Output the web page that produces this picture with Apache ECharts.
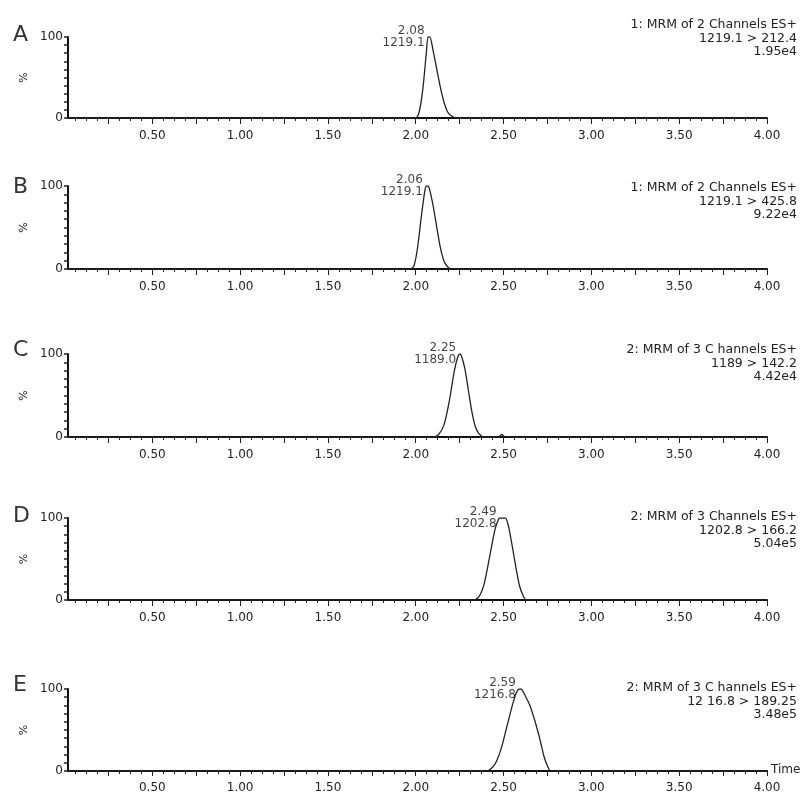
<!DOCTYPE html>
<html><head><meta charset="utf-8">
<script src="https://cdn.jsdelivr.net/npm/echarts@6/dist/echarts.min.js"></script>
<style>html,body{margin:0;padding:0;background:#fff}#c{width:807px;height:794px}</style>
</head><body><div id="c"></div><script>
// ---- data ----
const panelLetters = ['A', 'B', 'C', 'D', 'E'];
const channelLine1 = ['1: MRM of 2 Channels ES+', '1: MRM of 2 Channels ES+', '2: MRM of 3 C hannels ES+', '2: MRM of 3 Channels ES+', '2: MRM of 3 C hannels ES+'];
const channelLine2 = ['1219.1 > 212.4', '1219.1 > 425.8', '1189 > 142.2', '1202.8 > 166.2', '12 16.8 > 189.25'];
const channelLine3 = ['1.95e4', '9.22e4', '4.42e4', '5.04e5', '3.48e5'];
const peakRT = ['2.08', '2.06', '2.25', '2.49', '2.59'];
const peakMass = ['1219.1', '1219.1', '1189.0', '1202.8', '1216.8'];
const xTickLabels = ['0.50', '1.00', '1.50', '2.00', '2.50', '3.00', '3.50', '4.00'];
const yTickLabels = ['0', '100'];

const timesA  = [0.02, 2.00, 2.02, 2.04, 2.06, 2.07, 2.08, 2.10, 2.12, 2.14, 2.16, 2.18, 2.20, 2.23, 4.00];
const valuesA = [0,    0,    8,    35,   80,   100,  100,  82,   60,   38,   20,   8,    3,    0,    0];
const timesB  = [0.02, 1.97, 1.99, 2.01, 2.03, 2.05, 2.06, 2.07, 2.08, 2.10, 2.12, 2.14, 2.16, 2.18, 2.20, 4.00];
const valuesB = [0,    0,    4,    25,   60,   92,   100,  100,  95,   75,   50,   26,   10,   3,    0,    0];
const timesC  = [0.02, 2.10, 2.13, 2.16, 2.19, 2.22, 2.24, 2.25, 2.26, 2.28, 2.30, 2.32, 2.34, 2.36, 2.39, 2.47, 2.49, 2.51, 4.00];
const valuesC = [0,    0,    3,    14,   42,   80,   97,   100,  98,   82,   56,   30,   12,   4,    0,    0,    3,    0,    0];
const timesD  = [0.02, 2.33, 2.36, 2.39, 2.42, 2.45, 2.47, 2.48, 2.51, 2.53, 2.55, 2.57, 2.59, 2.61, 2.63, 4.00];
const valuesD = [0,    0,    4,    20,   52,   85,   98,   100,  100,  88,   65,   40,   18,   6,    0,    0];
const timesE  = [0.02, 2.40, 2.43, 2.46, 2.49, 2.52, 2.55, 2.57, 2.59, 2.60, 2.62, 2.65, 2.68, 2.71, 2.73, 2.75, 2.77, 4.00];
const valuesE = [0,    0,    3,    12,   30,   55,   80,   94,   100,  100,  93,   80,   60,   36,   18,   6,    0,    0];

const allTimes = [timesA, timesB, timesC, timesD, timesE];
const allValues = [valuesA, valuesB, valuesC, valuesD, valuesE];

// ---- layout / style ----
const FONT = 'DejaVu Sans';
const tops = [37, 186, 354, 518, 689];
const heights = [81, 83, 83, 82, 82];
const rtTops = [13, 176, 338, 505, 676];
const letterTops = [19, 171, 334, 500, 669];
const X_MIN = 0.02, X_MAX = 4.0, PX_L = 68, PX_R = 767, W = 807;
const ppu = (PX_R - PX_L) / (X_MAX - X_MIN);
const leftFor = m => PX_L + (m - X_MIN) * ppu;

const grid = [], xAxis = [], yAxis = [], series = [], title = [];
for (let p = 0; p < 5; p++) {
  const g0 = grid.length;
  grid.push({left: PX_L, right: W - PX_R, top: tops[p], height: heights[p]});
  grid.push({left: leftFor(0.0625), right: W - PX_R, top: tops[p], height: heights[p]});
  grid.push({left: leftFor(0.25), right: W - PX_R, top: tops[p], height: heights[p]});

  xAxis.push({type: 'value', gridIndex: g0, min: X_MIN, max: X_MAX,
    axisLine: {show: true, onZero: false, lineStyle: {color: '#111', width: 2}},
    axisTick: {show: false}, axisLabel: {show: false}, splitLine: {show: false}});
  xAxis.push({type: 'value', gridIndex: g0 + 1, min: 0.0625, max: X_MAX, interval: 0.0625,
    axisLine: {show: false}, axisTick: {show: true, length: 3, lineStyle: {color: '#222', width: 1}},
    axisLabel: {show: false}, splitLine: {show: false}});
  xAxis.push({type: 'value', gridIndex: g0 + 2, min: 0.25, max: X_MAX, interval: 0.25,
    axisLine: {show: false}, axisTick: {show: true, length: 6, lineStyle: {color: '#222', width: 1}},
    axisLabel: {show: true, margin: 12, fontFamily: FONT, fontSize: 12, color: '#222',
      formatter: v => { const s = v.toFixed(2); return xTickLabels.includes(s) ? s : ''; }},
    splitLine: {show: false},
    name: p === 4 ? 'Time' : '', nameLocation: 'end', nameGap: 4,
    nameTextStyle: {fontFamily: FONT, fontSize: 12, color: '#222', padding: [8, 0, 0, 0]}});

  yAxis.push({type: 'value', gridIndex: g0, min: 0, max: 100, interval: 10,
    axisLine: {show: true, lineStyle: {color: '#111', width: 2}},
    axisTick: {show: true, length: 4, lineStyle: {color: '#222', width: 1.5}},
    axisLabel: {show: true, margin: 5, fontFamily: FONT, fontSize: 12, color: '#222',
      formatter: v => yTickLabels.includes(String(v)) ? String(v) : ''},
    splitLine: {show: false},
    name: '%', nameLocation: 'middle', nameRotate: 90, nameGap: 14,
    nameTextStyle: {fontFamily: FONT, fontSize: 11, color: '#222'}});
  yAxis.push({type: 'value', gridIndex: g0 + 1, min: 0, max: 100, show: false});
  yAxis.push({type: 'value', gridIndex: g0 + 2, min: 0, max: 100, show: false});

  const ts = allTimes[p], vs = allValues[p];
  const data = ts.map((t, i) => [t, vs[i]]);
  let pk = 0; vs.forEach((v, i) => { if (v > vs[pk]) pk = i; });
  series.push({type: 'line', xAxisIndex: g0, yAxisIndex: g0, data, showSymbol: false, smooth: 0.25,
    lineStyle: {color: '#222', width: 1.3}, silent: true, z: 3});
  series.push({type: 'scatter', xAxisIndex: g0, yAxisIndex: g0, data: [[ts[pk], vs[pk]]], symbolSize: 1,
    itemStyle: {color: 'rgba(0,0,0,0)'}, silent: true,
    label: {show: true, position: 'left', distance: 3, fontFamily: FONT, fontSize: 12, color: '#111', lineHeight: 12,
      formatter: () => peakRT[p] + '\n' + peakMass[p]}});

  title.push({text: panelLetters[p], left: 8, top: letterTops[p],
    textStyle: {fontFamily: FONT, fontSize: 22, fontWeight: 'normal', color: '#333'}});
  title.push({text: channelLine1[p] + '\n' + channelLine2[p] + '\n' + channelLine3[p], left: 792, top: rtTops[p],
    textAlign: 'right',
    textStyle: {fontFamily: FONT, fontSize: 12.5, fontWeight: 'normal', color: '#222', lineHeight: 13.5, align: 'right'}});
}

const chart = echarts.init(document.getElementById('c'), null, {renderer: 'canvas'});
chart.setOption({backgroundColor: '#fff', animation: false, title, grid, xAxis, yAxis, series});
</script></body></html>
